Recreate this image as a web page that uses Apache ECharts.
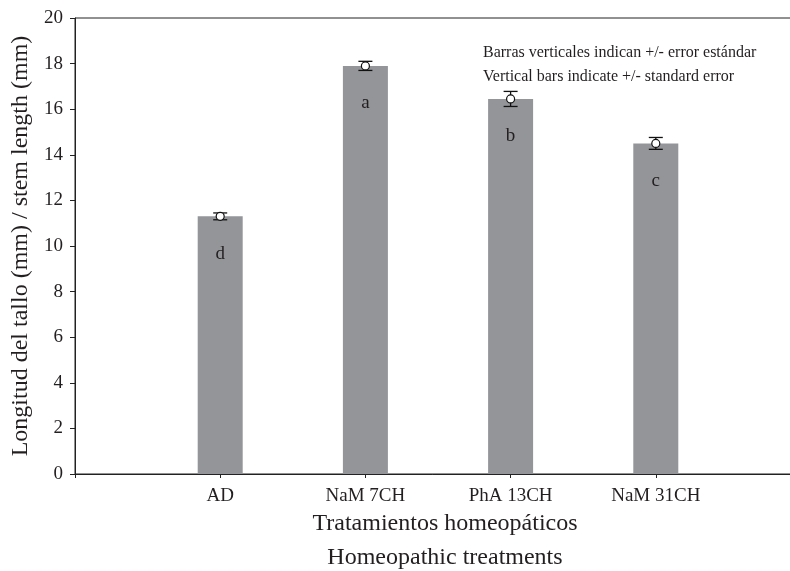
<!DOCTYPE html>
<html><head><meta charset="utf-8">
<script src="https://cdn.jsdelivr.net/npm/echarts@6/dist/echarts.min.js"></script>
<style>html,body{margin:0;padding:0;background:#fff}#c{width:790px;height:571px}</style>
</head><body><div id="c"></div>
<script>
const categories = ['AD', 'NaM 7CH', 'PhA 13CH', 'NaM 31CH'];
const means = [11.3, 17.9, 16.45, 14.5];
const stdErr = [0.15, 0.2, 0.33, 0.26];
const letters = ['d', 'a', 'b', 'c'];
const yTicks = [0, 2, 4, 6, 8, 10, 12, 14, 16, 18, 20];

const FONT = '"Liberation Serif", "DejaVu Serif", serif';
const TXT = '#231f20';

const axisCats = [''].concat(categories, ['']);
const barData = [null].concat(means.map((v, i) => ({ value: v, letter: letters[i] })), [null]);
const errData = means.map((v, i) => [i + 1, v, stdErr[i]]);

const chart = echarts.init(document.getElementById('c'), null, { renderer: 'canvas' });
chart.setOption({
  animation: false,
  backgroundColor: '#fff',
  grid: { left: 75, top: 18, height: 456, width: 726, outerBoundsMode: 'none', containLabel: false, show: true, borderColor: '#222', borderWidth: 1, backgroundColor: 'transparent' },
  xAxis: {
    type: 'category', data: axisCats, boundaryGap: false,
    axisLine: { lineStyle: { color: '#222', width: 1 } },
    axisTick: { show: true, length: 4, lineStyle: { color: '#222' }, interval: 0 },
    axisLabel: { interval: 0, color: TXT, fontFamily: FONT, fontSize: 19, margin: 13 },
    splitLine: { show: false }
  },
  yAxis: {
    type: 'value', min: yTicks[0], max: yTicks[yTicks.length - 1], interval: 2,
    name: 'Longitud del tallo (mm) / stem length (mm)', nameLocation: 'middle', nameGap: 41,
    nameTextStyle: { color: TXT, fontFamily: FONT, fontSize: 24 },
    axisLine: { show: true, lineStyle: { color: '#222', width: 1 } },
    axisTick: { show: true, length: 5, lineStyle: { color: '#222' } },
    axisLabel: { color: TXT, fontFamily: FONT, fontSize: 19, margin: 12 },
    splitLine: { show: false }
  },
  graphic: [
    { type: 'text', x: 445, y: 524, style: { text: 'Tratamientos homeopáticos', font: '24px ' + FONT, fill: TXT, textAlign: 'center', textVerticalAlign: 'middle' } },
    { type: 'text', x: 445, y: 558, style: { text: 'Homeopathic treatments', font: '24px ' + FONT, fill: TXT, textAlign: 'center', textVerticalAlign: 'middle' } },
    { type: 'text', x: 483, y: 53, style: { text: 'Barras verticales indican +/- error estándar', font: '16px ' + FONT, fill: TXT, textAlign: 'left', textVerticalAlign: 'middle' } },
    { type: 'text', x: 483, y: 77, style: { text: 'Vertical bars indicate +/- standard error', font: '16px ' + FONT, fill: TXT, textAlign: 'left', textVerticalAlign: 'middle' } }
  ],
  series: [
    {
      type: 'bar', data: barData, barWidth: 45,
      itemStyle: { color: '#939598' },
      label: {
        show: true, position: 'insideTop', distance: 28,
        formatter: p => (p.data && p.data.letter) || '',
        color: TXT, fontFamily: FONT, fontSize: 19
      }
    },
    {
      type: 'custom', data: errData, z: 10,
      renderItem: function (params, api) {
        const x = api.value(0), m = api.value(1), e = api.value(2);
        const top = api.coord([x, m + e]);
        const bot = api.coord([x, m - e]);
        const c = api.coord([x, m]);
        const hw = 7;
        const ls = { stroke: '#111', lineWidth: 1.3 };
        return {
          type: 'group', children: [
            { type: 'line', shape: { x1: c[0], y1: top[1], x2: c[0], y2: bot[1] }, style: ls },
            { type: 'line', shape: { x1: c[0] - hw, y1: top[1], x2: c[0] + hw, y2: top[1] }, style: ls },
            { type: 'line', shape: { x1: c[0] - hw, y1: bot[1], x2: c[0] + hw, y2: bot[1] }, style: ls },
            { type: 'circle', shape: { cx: c[0], cy: c[1], r: 4 }, style: { fill: '#fff', stroke: '#111', lineWidth: 1.2 } }
          ]
        };
      }
    }
  ]
});
</script></body></html>
